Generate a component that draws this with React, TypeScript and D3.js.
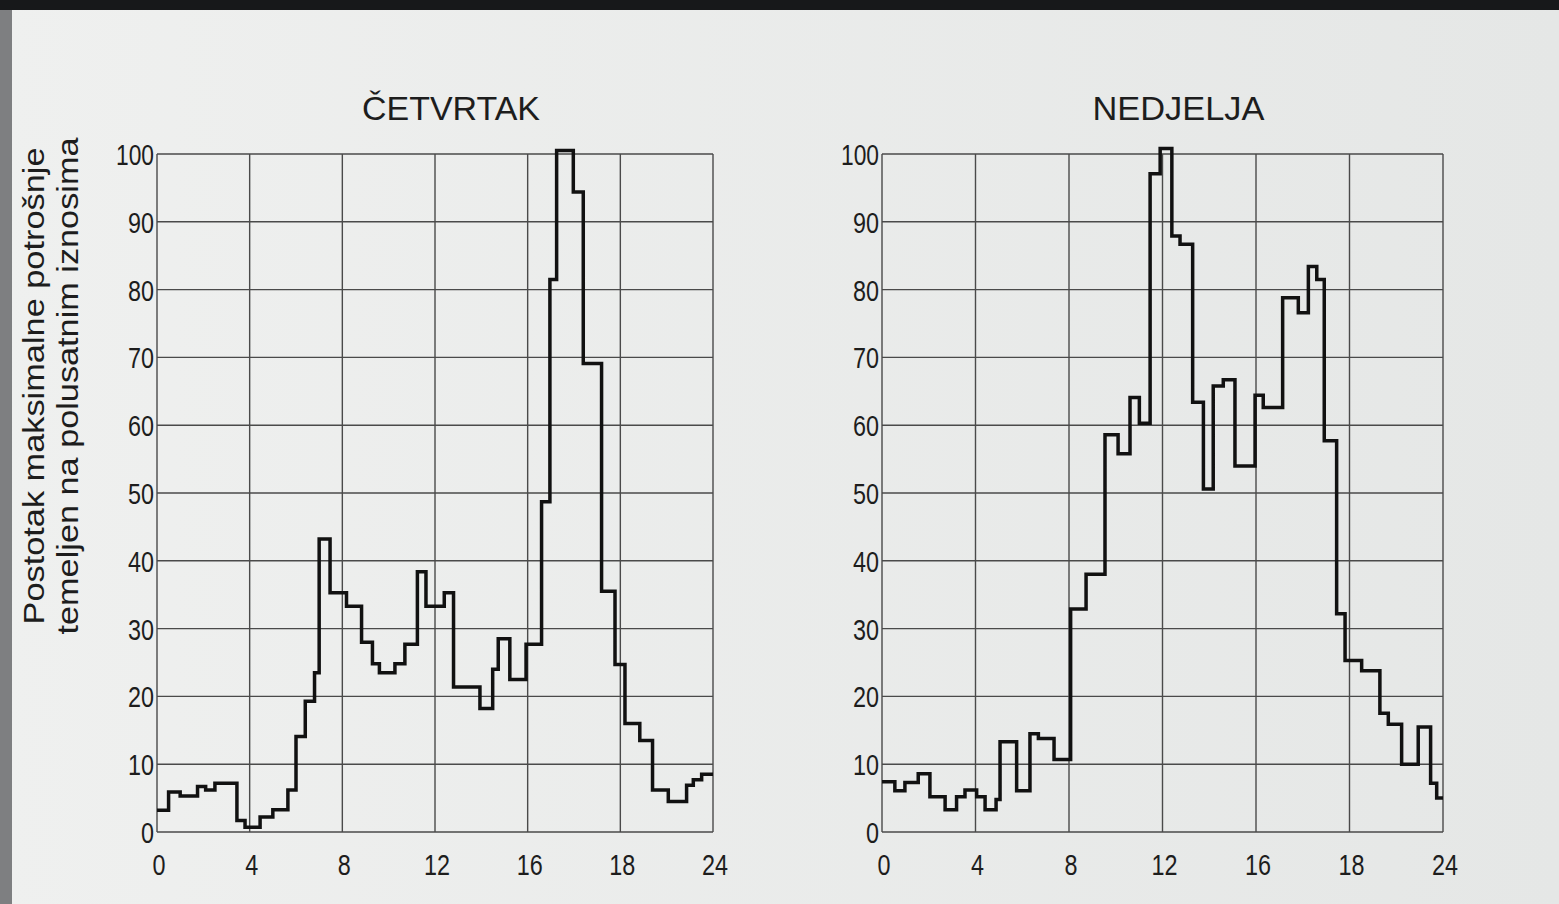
import * as d3 from "d3";

const W = 1559;
const H = 904;

// Thursday: step start times (h) and half-hourly consumption (% of max)
const thuHours = [0, 0.5, 1.0, 1.75, 2.1, 2.5, 3.45, 3.8, 4.45, 5.0, 5.65, 6.0, 6.4, 6.8, 7.0, 7.47, 8.18, 8.83, 9.3, 9.6, 10.27, 10.7, 11.24, 11.61, 12.4, 12.8, 13.94, 14.49, 14.73, 15.23, 15.93, 16.6, 16.96, 17.25, 17.97, 18.4, 19.19, 19.77, 20.2, 20.84, 21.39, 22.07, 22.86, 23.15, 23.51];
const thuValues = [3.2, 5.9, 5.3, 6.7, 6.2, 7.2, 1.7, 0.7, 2.2, 3.3, 6.2, 14.1, 19.3, 23.5, 43.2, 35.3, 33.3, 28, 24.8, 23.5, 24.8, 27.7, 38.4, 33.3, 35.3, 21.4, 18.2, 24, 28.5, 22.5, 27.7, 48.7, 81.5, 100.5, 94.4, 69.1, 35.5, 24.7, 16, 13.5, 6.2, 4.5, 6.9, 7.7, 8.5];

// Sunday
const sunHours = [0, 0.55, 0.98, 1.55, 2.05, 2.7, 3.19, 3.55, 4.05, 4.41, 4.88, 5.05, 5.76, 6.33, 6.69, 7.36, 8.07, 8.73, 9.54, 10.1, 10.61, 11.01, 11.47, 11.9, 12.4, 12.75, 13.29, 13.75, 14.17, 14.6, 15.1, 15.96, 16.31, 17.14, 17.81, 18.24, 18.6, 18.92, 19.45, 19.81, 20.52, 21.3, 21.66, 22.23, 22.94, 23.47, 23.73];
const sunValues = [7.4, 6.1, 7.3, 8.6, 5.2, 3.3, 5.2, 6.2, 5.2, 3.3, 4.8, 13.3, 6.1, 14.5, 13.8, 10.7, 32.9, 38.0, 58.6, 55.8, 64.1, 60.3, 97.1, 100.8, 87.9, 86.7, 63.4, 50.6, 65.8, 66.7, 54.0, 64.4, 62.6, 78.8, 76.6, 83.4, 81.5, 57.7, 32.2, 25.3, 23.8, 17.5, 15.9, 10.0, 15.5, 7.2, 5.0];

const xTicks = [0, 4, 8, 12, 16, 20, 24];
const xTickLabels = ["0", "4", "8", "12", "16", "18", "24"];
const yTicks = [0, 10, 20, 30, 40, 50, 60, 70, 80, 90, 100];

const FONT = "'Liberation Sans', Arial, Helvetica, sans-serif";

function Panel({ title, titleLen, hours, values, x0, x1 }) {
  const x = d3.scaleLinear().domain([0, 24]).range([x0, x1]);
  const y = d3.scaleLinear().domain([0, 100]).range([832, 154]);
  const pts = hours.map((h, i) => [h, values[i]]);
  pts.push([24, values[values.length - 1]]);
  const line = d3.line()
    .x((d) => x(d[0]))
    .y((d) => y(d[1]))
    .curve(d3.curveStepAfter);

  return (
    <g>
      <text x={(x0 + x1) / 2 + 16} y={120} textAnchor="middle" fontSize={33} fontFamily={FONT} fill="#1d1d1d"
        textLength={titleLen} lengthAdjust="spacingAndGlyphs">{title}</text>
      {yTicks.map((t) => (
        <line key={"h" + t} x1={x0} x2={x1} y1={y(t)} y2={y(t)} stroke="#4a4a4a" strokeWidth={1.4} />
      ))}
      {xTicks.map((t) => (
        <line key={"v" + t} x1={x(t)} x2={x(t)} y1={y(0)} y2={y(100)} stroke="#4a4a4a" strokeWidth={1.4} />
      ))}
      {yTicks.map((t) => (
        <text key={"yl" + t} x={x0 - 3} y={y(t) + 11} textAnchor="end" fontSize={29} fontFamily={FONT} fill="#1d1d1d"
          textLength={t === 100 ? 38 : t === 0 ? 13 : 26} lengthAdjust="spacingAndGlyphs">{t}</text>
      ))}
      {xTicks.map((t, i) => (
        <text key={"xl" + t} x={x(t) + 2} y={875} textAnchor="middle" fontSize={29} fontFamily={FONT} fill="#1d1d1d"
          textLength={xTickLabels[i].length * 13} lengthAdjust="spacingAndGlyphs">{xTickLabels[i]}</text>
      ))}
      <path d={line(pts)} fill="none" stroke="#111" strokeWidth={3.5} strokeLinejoin="miter" />
    </g>
  );
}

export default function App() {
  return (
    <svg width={W} height={H} style={{ position: "fixed", left: 0, top: 0 }}>
      <defs>
        <linearGradient id="paper" x1="0" x2="1" y1="0" y2="0">
          <stop offset="0" stopColor="#eff0ef" />
          <stop offset="1" stopColor="#e5e7e6" />
        </linearGradient>
      </defs>
      <rect x={0} y={0} width={W} height={H} fill="url(#paper)" />
      <rect x={0} y={0} width={W} height={10} fill="#17181a" />
      <rect x={0} y={10} width={12} height={H - 10} fill="#7e7f81" />
      <g fontFamily={FONT} fontSize={29} fill="#1d1d1d" textAnchor="middle">
        <text transform="translate(44,386) rotate(-90)" textLength={477} lengthAdjust="spacingAndGlyphs">Postotak maksimalne potrošnje</text>
        <text transform="translate(78,386) rotate(-90)" textLength={497} lengthAdjust="spacingAndGlyphs">temeljen na polusatnim iznosima</text>
      </g>
      <Panel title="ČETVRTAK" titleLen={178} hours={thuHours} values={thuValues} x0={157} x1={713} />
      <Panel title="NEDJELJA" titleLen={172} hours={sunHours} values={sunValues} x0={882} x1={1443} />
    </svg>
  );
}
